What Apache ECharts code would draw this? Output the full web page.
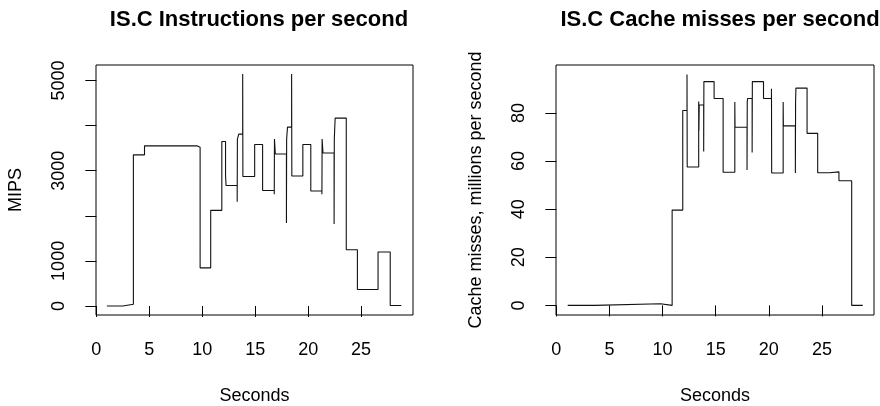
<!DOCTYPE html>
<html>
<head>
<meta charset="utf-8">
<title>IS.C</title>
<script src="https://cdn.jsdelivr.net/npm/echarts@6/dist/echarts.min.js"></script>
<style>
  html, body { margin: 0; padding: 0; background: #fff; }
  #chart { width: 880px; height: 406px; }
</style>
</head>
<body>
<div id="chart"></div>
<script>
// instructions per second (step plot, value holds until next time)
const ipsSeconds = [1.0, 2.5, 3.5, 4.55, 9.5, 9.8, 10.8, 11.85, 12.2, 12.25,
  13.3, 13.32, 13.45, 13.82, 13.84, 14.95, 15.7, 16.8, 16.82, 16.9,
  17.95, 17.97, 18.05, 18.44, 18.46, 19.5, 20.25, 21.3, 21.32, 21.4,
  22.45, 22.47, 22.55, 23.6, 24.65, 26.6, 27.75, 28.8];
const ipsValues = [0, 40, 3350, 3550, 3520, 845, 2120, 3645, 2900, 2670,
  2310, 3700, 3810, 5140, 2870, 3580, 2560, 2475, 3700, 3370,
  1840, 3700, 3965, 5140, 2880, 3580, 2550, 2475, 3700, 3390,
  1820, 3700, 4165, 1245, 365, 1195, 10, 10];

// cache misses, millions per second
const missSeconds = [1.07, 3.6, 9.8, 10.9, 11.9, 12.3, 12.32, 13.4, 13.42, 13.45,
  13.87, 13.89, 14.85, 15.7, 16.8, 16.82, 17.95, 17.97, 18.0, 18.43, 18.45,
  19.5, 20.25, 20.27, 21.35, 21.37, 22.5, 22.52, 22.55, 23.6, 24.6,
  25.7, 26.6, 27.8, 28.84];
const missValues = [0, 0.7, 0, 39.6, 81, 96, 57.5, 84.7, 72.5, 83.3,
  64, 93, 86, 55.3, 84.5, 74, 56.3, 84.5, 86, 63.5, 93,
  86, 90, 55, 84.5, 74.6, 55, 84.5, 90.3, 71.5, 55.1,
  55.5, 51.8, 0, 0];

const xTicks = [0, 5, 10, 15, 20, 25];
const ipsTicks = [0, 1000, 2000, 3000, 4000, 5000];
const ipsLabels = [0, 1000, 3000, 5000];
const missTicks = [0, 20, 40, 60, 80];

const FONT = 'Liberation Sans, Arial, sans-serif';
const plain = v => String(v); // no thousands separator

function xAxisFor(gridIndex) {
  return {
    type: 'value', gridIndex: gridIndex,
    min: -0.03, max: 29.9,
    name: 'Seconds', nameLocation: 'middle', nameGap: 72,
    nameTextStyle: { fontFamily: FONT, fontSize: 18, color: '#000' },
    axisLine: { show: false },
    splitLine: { show: false },
    axisTick: { show: true, inside: false, length: 11, customValues: xTicks, lineStyle: { color: '#000', width: 1 } },
    axisLabel: { customValues: xTicks, formatter: plain, margin: 26, fontFamily: FONT, fontSize: 18, color: '#000' }
  };
}

function yAxisFor(gridIndex, min, max, ticks, labels, name) {
  return {
    type: 'value', gridIndex: gridIndex,
    min: min, max: max,
    name: name, nameLocation: 'middle', nameGap: 71, nameRotate: 90,
    nameTextStyle: { fontFamily: FONT, fontSize: 18, color: '#000' },
    axisLine: { show: false },
    splitLine: { show: false },
    axisTick: { show: true, inside: false, length: 11, customValues: ticks, lineStyle: { color: '#000', width: 1 } },
    axisLabel: { customValues: labels, formatter: plain, rotate: 90, margin: 28, fontFamily: FONT, fontSize: 18, color: '#000' }
  };
}

function stepSeries(idx, xs, ys) {
  return {
    type: 'line', xAxisIndex: idx, yAxisIndex: idx,
    step: 'end', showSymbol: false, silent: true,
    lineStyle: { color: '#111', width: 1.1 },
    data: xs.map((x, i) => [x, ys[i]])
  };
}

const chart = echarts.init(document.getElementById('chart'), null, { renderer: 'canvas' });
chart.setOption({
  animation: false,
  backgroundColor: '#fff',
  title: [
    { text: 'IS.C Instructions per second', left: 254, top: 4, textAlign: 'center',
      textStyle: { fontFamily: FONT, fontSize: 22, fontWeight: 'bold', color: '#000' } },
    { text: 'IS.C Cache misses per second', left: 715, top: 4, textAlign: 'center',
      textStyle: { fontFamily: FONT, fontSize: 22, fontWeight: 'bold', color: '#000' } }
  ],
  grid: [
    { left: 96, top: 65, width: 317, height: 250, show: true, borderColor: '#000', borderWidth: 1, outerBoundsMode: 'none' },
    { left: 556, top: 65, width: 318, height: 250, show: true, borderColor: '#000', borderWidth: 1, outerBoundsMode: 'none' }
  ],
  xAxis: [xAxisFor(0), xAxisFor(1)],
  yAxis: [
    yAxisFor(0, -200, 5342, ipsTicks, ipsLabels, 'MIPS'),
    yAxisFor(1, -4, 99.9, missTicks, missTicks, 'Cache misses, millions per second')
  ],
  series: [
    stepSeries(0, ipsSeconds, ipsValues),
    stepSeries(1, missSeconds, missValues)
  ]
});
</script>
</body>
</html>
